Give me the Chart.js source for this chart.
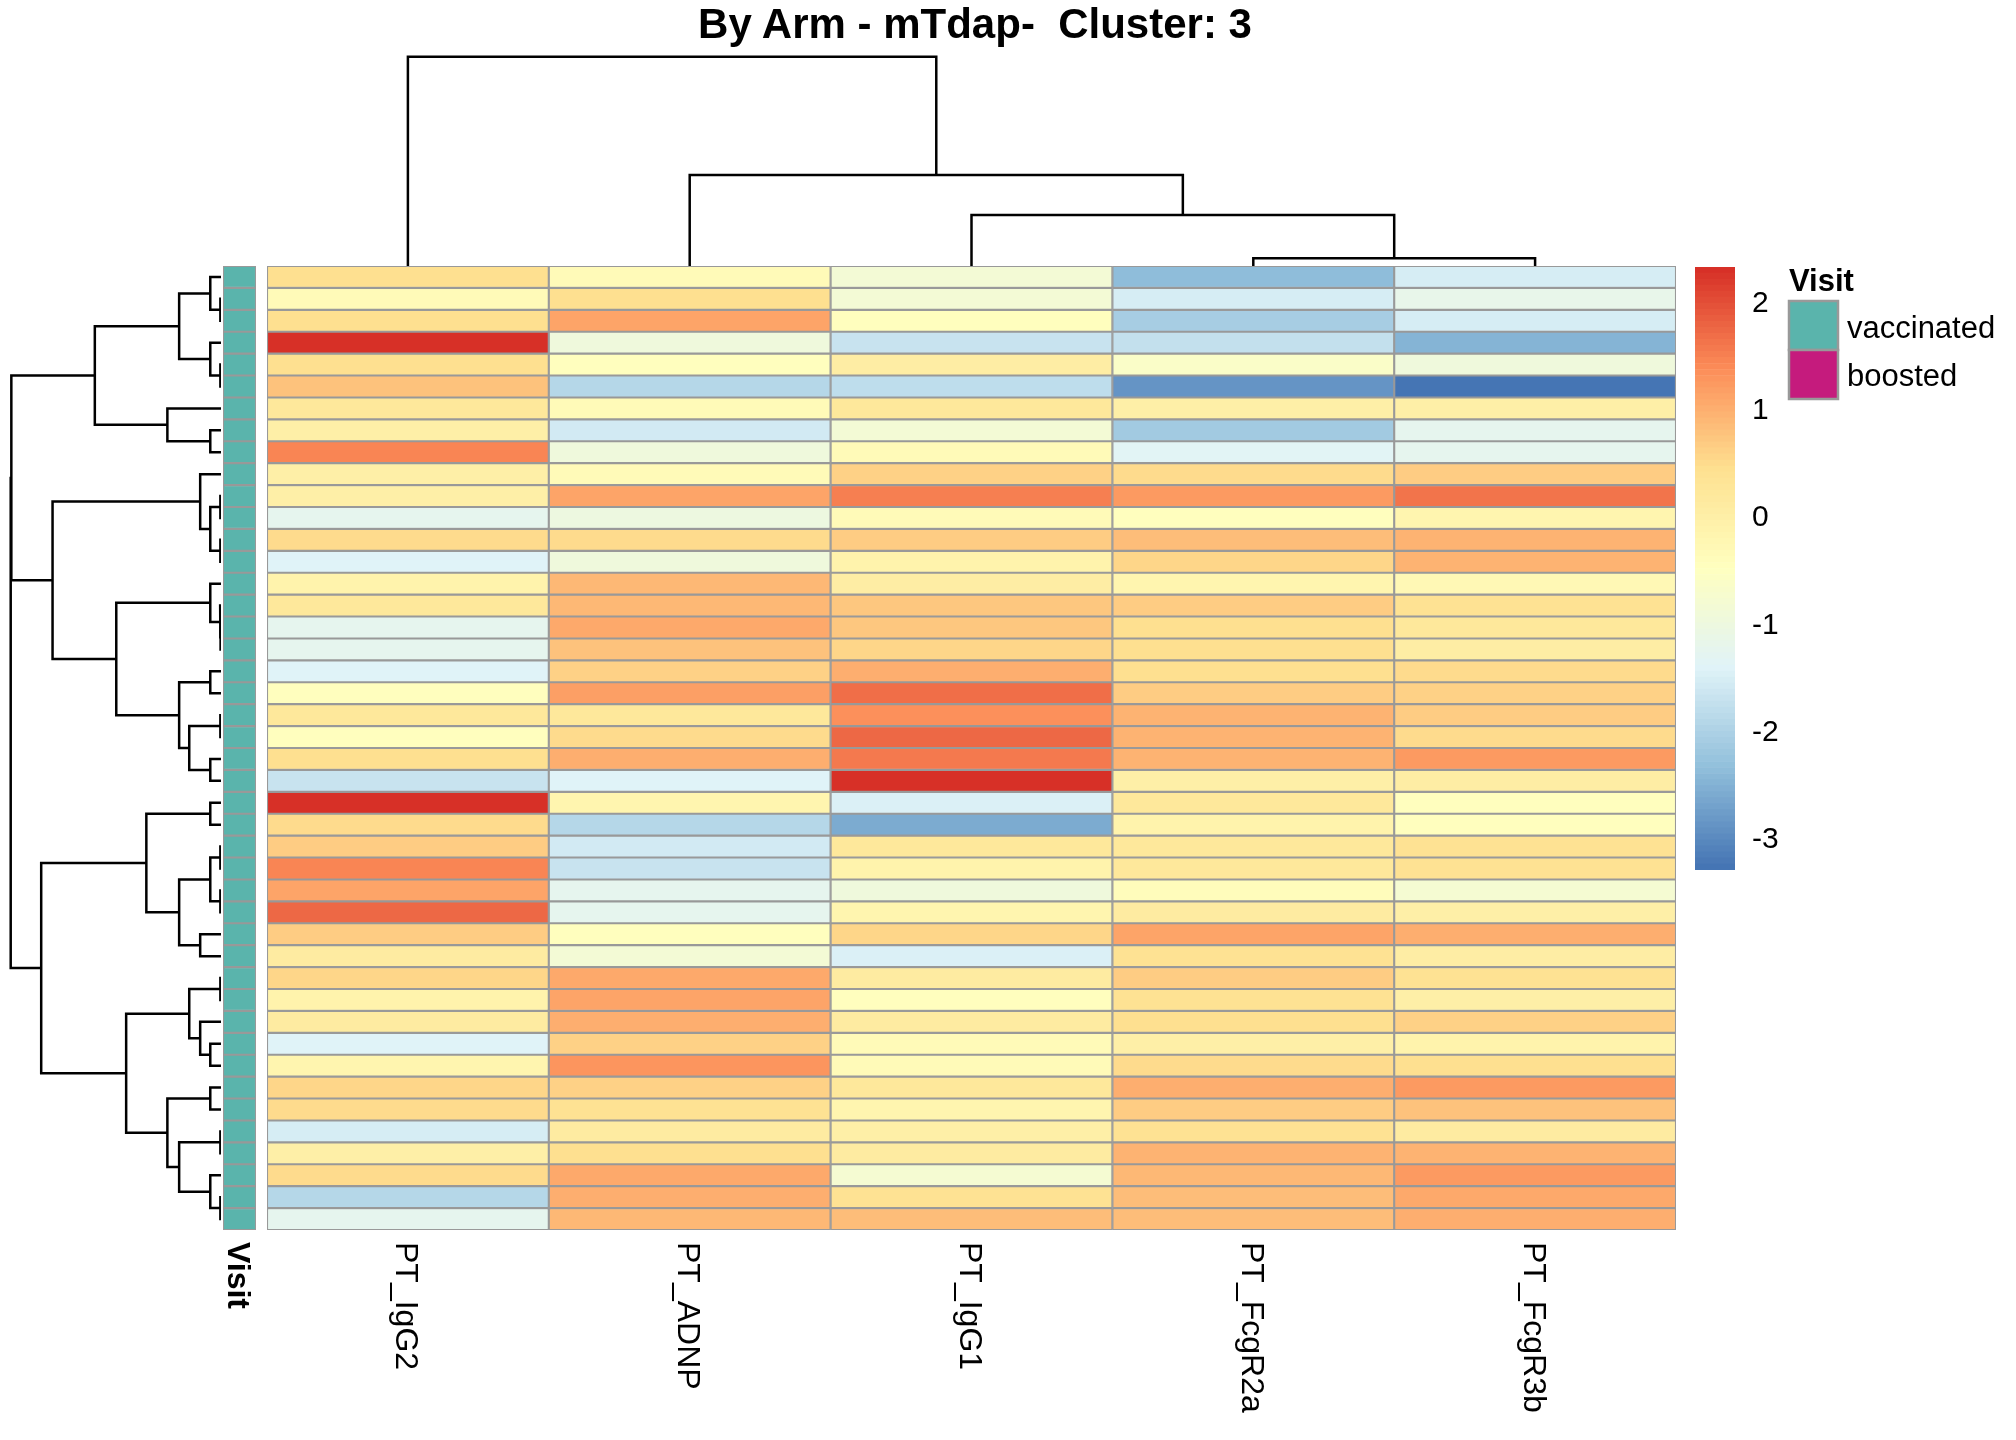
<!DOCTYPE html>
<html>
<head>
<meta charset="utf-8">
<title>By Arm - mTdap-  Cluster: 3</title>
<script src="https://cdn.jsdelivr.net/npm/chart.js@4.4.1/dist/chart.umd.min.js"></script>
<style>
  body { margin: 0; background: #ffffff; }
  #page { position: relative; width: 2016px; height: 1440px; overflow: hidden; }
  #page canvas, #page svg { position: absolute; }
  #labels text { white-space: pre; }
</style>
</head>
<body>
<div id="page">
  <canvas id="col-dendro" width="1409" height="216" style="left:267px; top:50px"></canvas>
  <canvas id="row-dendro" width="221" height="964" style="left:0px; top:266px"></canvas>
  <canvas id="annotation" width="33" height="964" style="left:223px; top:266px"></canvas>
  <canvas id="heatmap" width="1409" height="964" style="left:267px; top:266px"></canvas>
  <canvas id="colour-bar" width="105" height="603" style="left:1695px; top:267px"></canvas>
  <svg id="labels" width="2016" height="1440" style="left:0px; top:0px" font-family="'Liberation Sans', Arial, sans-serif"></svg>
</div>
<script>
/* ---- data ---- */

// heatmap columns, left to right (already in dendrogram order)
let columns = ['PT_IgG2', 'PT_ADNP', 'PT_IgG1', 'PT_FcgR2a', 'PT_FcgR3b']

// scaled values per column, rows top to bottom (44 samples)
let igg2 = [0.44, -0.32, 0.44, 2.34, 0.44, 0.78, 0.22, -0.02, 1.47, -0.02, -0.02,
  -1.22, 0.49, -1.41, -0.11, 0.22, -1.25, -1.25, -1.41, -0.44, 0.25, -0.44,
  0.44, -1.68, 2.32, 0.53, 0.71, 1.47, 1.15, 1.74, 0.71, 0.13, 0.55,
  -0.11, 0.13, -1.41, -0.17, 0.55, 0.49, -1.53, -0.02, 0.49, -1.88, -1.25]
let adnp = [-0.32, 0.44, 1.13, -0.92, -0.44, -1.88, -0.32, -1.56, -0.95, -0.32, 1.15,
  -1.01, 0.49, -0.92, 0.89, 0.89, 1.08, 0.79, 0.61, 1.19, 0.25, 0.53,
  1.04, -1.41, -0.17, -1.88, -1.56, -1.68, -1.22, -1.22, -0.44, -0.83, 1.08,
  1.15, 1.04, 0.61, 1.29, 0.61, 0.38, 0.13, 0.44, 1.08, 1.04, 0.89]
let igg1 = [-0.83, -0.83, -0.44, -1.68, 0.07, -1.78, 0.22, -0.83, -0.32, 0.61, 1.54,
  -0.32, 0.71, -0.11, 0.07, 0.74, 0.74, 0.55, 1.0, 1.71, 1.34, 1.75,
  1.60, 2.30, -1.48, -2.60, 0.22, -0.11, -0.95, -0.17, 0.55, -1.48, 0.13,
  -0.44, 0.13, -0.32, -0.32, 0.22, -0.17, 0.01, 0.13, -0.77, 0.38, 0.84]
let fcgr2a = [-2.33, -1.53, -2.07, -1.74, -0.62, -2.85, -0.02, -2.13, -1.35, 0.53, 1.25,
  -0.44, 0.84, 0.55, -0.17, 0.71, 0.44, 0.44, 0.44, 0.71, 0.96, 0.96,
  0.96, -0.02, 0.25, -0.11, 0.25, 0.25, -0.38, 0.13, 1.15, 0.38, 0.71,
  0.38, 0.44, -0.02, 0.49, 1.0, 0.71, 0.38, 0.96, 0.89, 0.84, 0.84]
let fcgr3b = [-1.53, -1.16, -1.53, -2.49, -0.92, -3.28, -0.02, -1.22, -1.22, 0.67, 1.63,
  -0.17, 0.96, 0.96, -0.25, 0.38, 0.22, 0.07, 0.53, 0.61, 0.67, 0.53,
  1.25, 0.07, -0.44, -0.44, 0.38, 0.38, -0.80, -0.02, 1.0, 0.07, 0.38,
  -0.02, 0.61, -0.11, 0.44, 1.25, 0.79, 0.13, 0.96, 1.25, 1.08, 1.04]
let columnValues = [igg2, adnp, igg1, fcgr2a, fcgr3b]

// Visit annotation for every row (all vaccinated in this cluster)
let visit = Array(44).fill('vaccinated')
let visitLevels = ['vaccinated', 'boosted']

// row dendrogram, hclust style: negative = row number, positive = earlier merge
let rowMergeA = [-2, -1, -5, -4, 2, -8, -7, 5, -11, -13,
  9, -10, -17, -16, -15, -19, -21, -23, 17, 16,
  15, 12, 8, -25, -27, -29, 25, -31, 27, 24,
  -33, -36, -35, 31, -38, -40, -43, -42, 36, 35,
  34, 30, 23]
let rowMergeB = [-3, 1, -6, 3, 4, -9, 6, 7, -12, -14,
  10, 11, -18, 13, 14, -20, -22, -24, 18, 19,
  20, 21, 22, -26, -28, -30, 26, -32, 28, 29,
  -34, -37, 32, 33, -39, -41, -44, 37, 38, 39,
  40, 41, 42]
let rowMergeHeight = [0.003, 0.051, 0.003, 0.051, 0.199, 0.051, 0.255, 0.600, 0.003, 0.003,
  0.051, 0.099, 0.002, 0.004, 0.051, 0.051, 0.003, 0.051, 0.151, 0.199,
  0.498, 0.801, 0.997, 0.051, 0.003, 0.003, 0.051, 0.099, 0.199, 0.355,
  0.003, 0.051, 0.099, 0.151, 0.051, 0.003, 0.003, 0.051, 0.199, 0.255,
  0.451, 0.855, 1.0]

// column dendrogram
let colMergeA = [-4, -3, -2, -1]
let colMergeB = [-5, 1, 2, 3]
let colMergeHeight = [0.037, 0.244, 0.435, 1.0]

// colour key range and its tick labels
let scaleMin = -3.28
let scaleMax = 2.34
let legendTicks = [-3, -2, -1, 0, 1, 2]

/* ---- styling ---- */
let fontFamily = "'Liberation Sans', Arial, sans-serif"
let paletteStops = ['#4575B4', '#91BFDB', '#E0F3F8', '#FFFFBF', '#FEE090', '#FC8D59', '#D73027']
let visitColours = { vaccinated: '#5AB4AC', boosted: '#C51B7D' }
let cellBorder = '#999999'

Chart.defaults.font.family = fontFamily
Chart.defaults.color = '#000000'
Chart.defaults.animation = false
Chart.defaults.plugins.legend.display = false
Chart.defaults.plugins.tooltip.enabled = false

// 100 step ramp, same idea as colorRampPalette(rev(brewer.pal(7, "RdYlBu")))(100)
function hexToRgb(h) {
  return [parseInt(h.slice(1, 3), 16), parseInt(h.slice(3, 5), 16), parseInt(h.slice(5, 7), 16)]
}
function rampColours(stops, n) {
  let rgb = stops.map(hexToRgb)
  let out = []
  for (let j = 0; j < n; j++) {
    let t = j / (n - 1) * (stops.length - 1)
    let k = Math.min(Math.floor(t), stops.length - 2)
    let f = t - k
    let c = rgb[k].map((v, m) => Math.round(v + (rgb[k + 1][m] - v) * f))
    out.push('rgb(' + c.join(',') + ')')
  }
  return out
}
let palette = rampColours(paletteStops, 100)

function colourFor(v) {
  let bin = Math.floor((v - scaleMin) / (scaleMax - scaleMin) * palette.length)
  return palette[Math.max(0, Math.min(palette.length - 1, bin))]
}

// turn a merge table into one U shaped polyline per merge
// leaf position = its row/column number, leaf height = 0
function dendroPaths(mergeA, mergeB, heights) {
  let pos = []
  let hts = []
  let node = k => k < 0 ? { p: -k, h: 0 } : { p: pos[k - 1], h: hts[k - 1] }
  let paths = []
  for (let i = 0; i < mergeA.length; i++) {
    let a = node(mergeA[i])
    let b = node(mergeB[i])
    let h = heights[i]
    paths.push([[a.p, a.h], [a.p, h], [b.p, h], [b.p, b.h]])
    pos.push((a.p + b.p) / 2)
    hts.push(h)
  }
  return paths
}

let nRows = igg2.length
let noPad = { padding: 0, autoPadding: false }

/* ---- heatmap: one stacked bar segment per cell ---- */
let heatDatasets = []
for (let r = 0; r < nRows; r++) {
  let rowVals = columnValues.map(col => col[r])
  heatDatasets.push({
    data: rowVals.map(() => 1),
    backgroundColor: rowVals.map(colourFor),
    borderColor: cellBorder,
    borderWidth: 1.4,
    borderSkipped: false,
    barPercentage: 1,
    categoryPercentage: 1
  })
}
new Chart(document.getElementById('heatmap'), {
  type: 'bar',
  data: { labels: columns, datasets: heatDatasets },
  options: {
    responsive: false,
    layout: noPad,
    scales: {
      x: { display: false, stacked: true },
      y: { display: false, stacked: true, reverse: true, min: 0, max: nRows }
    }
  }
})

/* ---- Visit annotation column ---- */
new Chart(document.getElementById('annotation'), {
  type: 'bar',
  data: {
    labels: ['Visit'],
    datasets: visit.map(v => ({
      data: [1],
      backgroundColor: visitColours[v],
      borderColor: cellBorder,
      borderWidth: 1.4,
      borderSkipped: false,
      barPercentage: 1,
      categoryPercentage: 1
    }))
  },
  options: {
    responsive: false,
    layout: noPad,
    scales: {
      x: { display: false, stacked: true },
      y: { display: false, stacked: true, reverse: true, min: 0, max: nRows }
    }
  }
})

/* ---- column dendrogram (x = column, y = height) ---- */
new Chart(document.getElementById('col-dendro'), {
  type: 'scatter',
  data: {
    datasets: dendroPaths(colMergeA, colMergeB, colMergeHeight).map(path => ({
      data: path.map(p => ({ x: p[0], y: p[1] })),
      showLine: true,
      borderColor: '#000000',
      borderWidth: 2.5,
      pointRadius: 0,
      clip: false
    }))
  },
  options: {
    responsive: false,
    layout: noPad,
    scales: {
      x: { type: 'linear', display: false, min: 0.5, max: columns.length + 0.5 },
      y: { type: 'linear', display: false, min: 0, max: 1.032 }
    }
  }
})

/* ---- row dendrogram (x = height growing to the left, y = row) ---- */
new Chart(document.getElementById('row-dendro'), {
  type: 'scatter',
  data: {
    datasets: dendroPaths(rowMergeA, rowMergeB, rowMergeHeight).map(path => ({
      data: path.map(p => ({ x: p[1], y: p[0] })),
      showLine: true,
      borderColor: '#000000',
      borderWidth: 2.5,
      pointRadius: 0,
      clip: false
    }))
  },
  options: {
    responsive: false,
    layout: noPad,
    scales: {
      x: { type: 'linear', display: false, reverse: true, min: 0, max: 1.0509 },
      y: { type: 'linear', display: false, reverse: true, min: 0.5, max: nRows + 0.5 }
    }
  }
})

/* ---- colour key ---- */
let step = (scaleMax - scaleMin) / palette.length
new Chart(document.getElementById('colour-bar'), {
  type: 'bar',
  data: {
    labels: ['key'],
    datasets: palette.map((c, j) => ({
      data: [[scaleMin + j * step, scaleMin + (j + 1) * step]],
      backgroundColor: c,
      borderWidth: 0,
      grouped: false,
      barPercentage: 1,
      categoryPercentage: 1
    }))
  },
  options: {
    responsive: false,
    layout: noPad,
    scales: {
      x: { display: false },
      y: {
        position: 'right',
        min: scaleMin,
        max: scaleMax,
        grid: { display: false, drawTicks: false },
        border: { display: false },
        afterBuildTicks: s => { s.ticks = legendTicks.map(v => ({ value: v })) },
        afterFit: s => {
          // bar fills the full canvas height; labels sit 17px right of it
          s.width = 65
          s.paddingTop = 0
          s.paddingBottom = 0
        },
        ticks: { padding: 17, font: { size: 30 }, color: '#000000' }
      }
    }
  }
})

/* ---- text: title, column labels, annotation legend ---- */
let svg = document.getElementById('labels')
let ns = 'http://www.w3.org/2000/svg'
function addText(txt, attrs) {
  let t = document.createElementNS(ns, 'text')
  for (let k in attrs) t.setAttribute(k, attrs[k])
  t.textContent = txt
  svg.appendChild(t)
}
function addRect(attrs) {
  let r = document.createElementNS(ns, 'rect')
  for (let k in attrs) r.setAttribute(k, attrs[k])
  svg.appendChild(r)
}

addText('By Arm - mTdap-  Cluster: 3', {
  x: 975, y: 38, 'text-anchor': 'middle', 'font-size': 42, 'font-weight': 'bold'
})

// column labels read top to bottom under the heatmap
let heatLeft = 267
let heatWidth = 1409
columns.forEach((name, i) => {
  let cx = heatLeft + heatWidth * (i + 0.5) / columns.length
  addText(name, { transform: 'translate(' + (cx - 11.5) + ',1242) rotate(90)', 'font-size': 32 })
})
addText('Visit', { transform: 'translate(228,1242) rotate(90)', 'font-size': 32, 'font-weight': 'bold' })

// annotation legend
addText('Visit', { x: 1789, y: 291, 'font-size': 31, 'font-weight': 'bold' })
visitLevels.forEach((lvl, i) => {
  addRect({ x: 1789, y: 301 + i * 49, width: 49, height: 49, fill: visitColours[lvl], stroke: cellBorder, 'stroke-width': 2.5 })
  addText(lvl, { x: 1847, y: 338 + i * 48, 'font-size': 31 })
})
</script>
</body>
</html>
